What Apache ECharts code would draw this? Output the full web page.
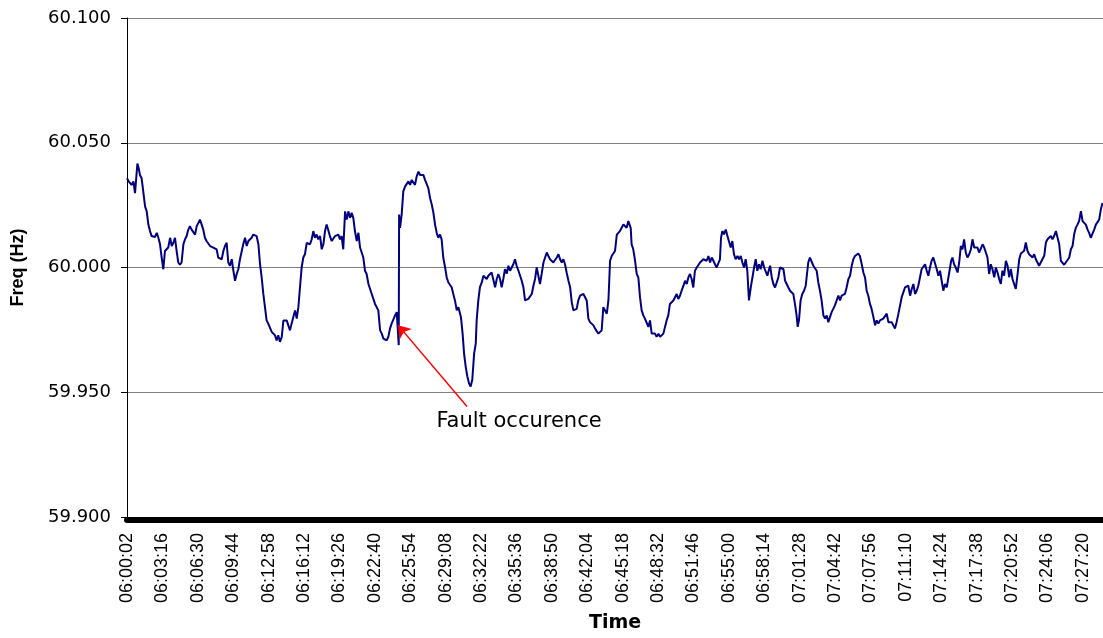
<!DOCTYPE html>
<html>
<head>
<meta charset="utf-8">
<script src="https://cdn.jsdelivr.net/npm/echarts@6/dist/echarts.min.js"></script>
<style>
html,body{margin:0;padding:0;background:#fff;}
#chart{width:1103px;height:638px;}
</style>
</head>
<body>
<div id="chart"></div>
<script>
// Tick labels on the time axis (one every 194 s, starting 06:00:02)
const timeLabels = ['06:00:02','06:03:16','06:06:30','06:09:44','06:12:58','06:16:12','06:19:26',
  '06:22:40','06:25:54','06:29:08','06:32:22','06:35:36','06:38:50','06:42:04','06:45:18',
  '06:48:32','06:51:46','06:55:00','06:58:14','07:01:28','07:04:42','07:07:56','07:11:10',
  '07:14:24','07:17:38','07:20:52','07:24:06','07:27:20'];
const labelStepSeconds = 194;
const axisEndSeconds = 5348;

// Frequency readings: [seconds after 06:00:02, frequency in Hz]
const readings = [
[0,60.0358],[9,60.0345],[16,60.0351],[25,60.0331],[35,60.0345],[44,60.0298],[57,60.0417],[64,60.0398],[71,60.0371],[80,60.0358],
[89,60.0305],[99,60.0245],[108,60.0225],[117,60.0172],[126,60.0146],[135,60.0126],[144,60.0130],[153,60.0122],[163,60.0139],[172,60.0119],
[181,60.0093],[190,60.0040],[199,59.9993],[208,60.0066],[217,60.0060],[226,60.0080],[236,60.0119],[245,60.0086],[254,60.0099],[263,60.0119],
[272,60.0066],[281,60.0020],[290,60.0011],[299,60.0020],[309,60.0093],[318,60.0113],[327,60.0126],[336,60.0152],[345,60.0166],[354,60.0152],
[363,60.0159],[373,60.0132],[382,60.0166],[391,60.0172],[400,60.0192],[409,60.0172],[418,60.0152],[427,60.0119],[436,60.0106],[446,60.0113],
[455,60.0086],[464,60.0093],[473,60.0080],[482,60.0086],[491,60.0073],[500,60.0040],[510,60.0046],[519,60.0033],[528,60.0066],[537,60.0086],
[546,60.0099],[555,60.0020],[564,60.0007],[574,60.0033],[583,59.9987],[592,59.9947],[601,59.9974],[610,59.9993],[619,60.0033],[628,60.0040],
[637,60.0093],[647,60.0119],[656,60.0086],[665,60.0106],[674,60.0113],[683,60.0119],[692,60.0132],[701,60.0139],[710,60.0126],[720,60.0093],
[729,60.0013],[738,59.9960],[747,59.9894],[756,59.9841],[765,59.9788],[774,59.9775],[784,59.9768],[793,59.9742],[802,59.9748],[811,59.9728],
[820,59.9708],[829,59.9728],[838,59.9702],[848,59.9722],[857,59.9788],[866,59.9781],[875,59.9788],[884,59.9781],[893,59.9748],
[902,59.9775],[911,59.9801],[921,59.9828],[930,59.9795],[939,59.9841],[948,59.9921],[957,60.0000],[966,60.0040],[975,60.0053],[985,60.0099],
[994,60.0106],[1003,60.0093],[1012,60.0113],[1021,60.0146],[1030,60.0119],[1039,60.0132],[1048,60.0113],[1058,60.0126],[1067,60.0073],[1076,60.0093],
[1085,60.0146],[1094,60.0172],[1103,60.0166],[1112,60.0126],[1122,60.0106],[1131,60.0113],[1140,60.0126],[1149,60.0119],[1158,60.0132],[1167,60.0113],
[1176,60.0126],[1185,60.0073],[1195,60.0225],[1204,60.0192],[1213,60.0225],[1222,60.0199],[1231,60.0219],[1240,60.0199],[1249,60.0146],[1259,60.0106],
[1268,60.0139],[1277,60.0080],[1286,60.0086],[1295,60.0040],[1304,59.9987],[1313,59.9974],[1323,59.9934],[1332,59.9927],[1341,59.9894],[1350,59.9887],
[1359,59.9854],[1368,59.9848],[1377,59.9828],[1387,59.9748],[1396,59.9735],[1405,59.9715],[1414,59.9722],[1423,59.9708],[1432,59.9722],[1441,59.9755],
[1450,59.9775],[1460,59.9781],[1469,59.9808],[1478,59.9821],[1487,59.9815],[1489,59.9689],[1491,60.0212],[1496,60.0159],[1505,60.0212],[1514,60.0305],
[1524,60.0325],[1533,60.0331],[1542,60.0345],[1551,60.0331],[1560,60.0351],[1569,60.0358],[1578,60.0331],[1587,60.0364],[1597,60.0384],[1606,60.0371],
[1615,60.0364],[1624,60.0371],[1633,60.0351],[1642,60.0345],[1651,60.0318],[1661,60.0278],[1670,60.0252],[1679,60.0219],[1688,60.0172],[1697,60.0139],
[1706,60.0119],[1715,60.0132],[1724,60.0113],[1733,60.0040],[1743,60.0000],[1752,59.9960],[1761,59.9940],[1770,59.9947],[1779,59.9921],
[1788,59.9894],[1797,59.9868],[1807,59.9828],[1816,59.9841],[1825,59.9848],[1830,59.9801],[1839,59.9735],[1847,59.9655],[1856,59.9602],[1865,59.9563],
[1874,59.9536],[1883,59.9523],[1892,59.9550],[1902,59.9655],[1911,59.9695],[1916,59.9788],[1925,59.9868],[1934,59.9921],[1944,59.9940],[1953,59.9967],
[1962,59.9974],[1971,59.9954],[1980,59.9967],[1989,59.9974],[1998,59.9980],[2008,59.9974],[2017,59.9921],[2026,59.9954],[2035,59.9974],[2044,59.9954],
[2053,59.9921],[2062,59.9954],[2071,59.9993],[2081,59.9976],[2090,60.0007],[2099,59.9987],[2108,59.9993],[2117,60.0013],[2126,60.0033],[2135,60.0007],
[2145,59.9987],[2154,59.9967],[2163,59.9947],[2172,59.9921],[2181,59.9868],[2190,59.9861],[2199,59.9874],[2208,59.9868],[2218,59.9894],[2227,59.9927],
[2236,59.9954],[2245,60.0000],[2254,59.9993],[2263,59.9934],[2272,59.9974],[2282,60.0020],[2291,60.0040],[2300,60.0060],[2309,60.0046],[2318,60.0033],
[2327,60.0027],[2336,60.0020],[2345,60.0020],[2355,60.0040],[2364,60.0053],[2373,60.0033],[2382,60.0020],[2391,60.0033],[2400,60.0013],[2409,59.9980],
[2419,59.9947],[2428,59.9921],[2437,59.9861],[2446,59.9828],[2455,59.9821],[2464,59.9834],[2473,59.9868],[2483,59.9887],[2492,59.9887],[2501,59.9894],
[2510,59.9881],[2519,59.9868],[2528,59.9795],[2537,59.9781],[2546,59.9775],[2556,59.9768],[2565,59.9755],[2574,59.9748],[2583,59.9735],[2592,59.9728],
[2601,59.9748],[2610,59.9841],[2620,59.9848],[2629,59.9815],[2638,59.9868],[2647,60.0027],[2656,60.0046],[2665,60.0053],[2674,60.0066],[2684,60.0132],
[2692,60.0133],[2701,60.0146],[2711,60.0152],[2720,60.0172],[2729,60.0166],[2738,60.0159],[2747,60.0186],[2753,60.0192],[2760,60.0159],[2765,60.0093],
[2774,60.0073],[2784,60.0027],[2793,59.9974],[2802,59.9960],[2811,59.9881],[2820,59.9828],[2829,59.9808],[2838,59.9795],[2848,59.9788],[2857,59.9762],
[2866,59.9788],[2875,59.9735],[2884,59.9728],[2893,59.9735],[2902,59.9722],[2912,59.9735],[2921,59.9722],[2930,59.9728],[2939,59.9735],[2948,59.9762],
[2957,59.9788],[2966,59.9808],[2975,59.9854],[2985,59.9861],[2994,59.9868],[3003,59.9881],[3012,59.9894],[3021,59.9874],[3030,59.9887],[3039,59.9907],
[3049,59.9927],[3058,59.9947],[3067,59.9934],[3076,59.9960],[3085,59.9974],[3094,59.9954],[3103,59.9920],[3112,59.9987],[3122,60.0000],[3131,60.0007],
[3140,60.0020],[3149,60.0013],[3158,60.0033],[3167,60.0040],[3176,60.0027],[3186,60.0046],[3195,60.0020],[3204,60.0040],[3213,60.0027],[3222,60.0013],
[3231,60.0000],[3240,59.9993],[3249,60.0033],[3255,60.0119],[3262,60.0146],[3271,60.0133],[3281,60.0152],[3290,60.0126],[3299,60.0119],[3308,60.0080],
[3317,60.0106],[3326,60.0053],[3335,60.0033],[3345,60.0046],[3354,60.0033],[3363,60.0046],[3372,60.0020],[3381,60.0000],[3390,60.0033],[3399,59.9987],
[3408,59.9868],[3418,59.9920],[3427,59.9960],[3436,60.0000],[3445,60.0033],[3454,59.9987],[3463,60.0013],[3472,59.9993],[3482,60.0027],[3491,60.0000],
[3500,59.9993],[3509,59.9967],[3518,59.9993],[3524,60.0007],[3533,59.9960],[3542,59.9934],[3551,59.9920],[3560,59.9914],[3569,59.9960],[3578,60.0000],
[3587,60.0000],[3597,59.9993],[3606,59.9947],
[3615,59.9940],[3624,59.9920],[3633,59.9907],[3642,59.9901],[3651,59.9894],[3660,59.9854],[3669,59.9808],[3675,59.9762],[3682,59.9788],[3691,59.9868],
[3700,59.9894],[3710,59.9907],[3719,59.9927],[3728,59.9987],[3733,60.0020],[3742,60.0040],[3752,60.0046],[3761,60.0007],[3770,60.0000],[3779,59.9987],
[3788,59.9940],[3797,59.9907],[3806,59.9868],[3816,59.9808],[3825,59.9795],[3834,59.9808],[3843,59.9781],[3852,59.9788],[3861,59.9821],[3870,59.9834],
[3879,59.9848],[3889,59.9854],[3898,59.9887],[3907,59.9868],[3916,59.9887],[3925,59.9881],[3934,59.9894],[3943,59.9920],[3953,59.9954],[3962,59.9967],
[3971,60.0007],[3980,60.0033],[3989,60.0046],[3998,60.0046],[4007,60.0056],[4016,60.0046],[4026,60.0013],[4035,59.9980],[4044,59.9960],[4053,59.9907],
[4062,59.9887],[4071,59.9854],[4080,59.9834],[4090,59.9801],[4099,59.9768],[4108,59.9788],[4117,59.9775],[4126,59.9788],[4135,59.9781],[4144,59.9795],
[4153,59.9788],[4163,59.9815],[4172,59.9781],[4181,59.9788],[4190,59.9781],[4199,59.9788],[4208,59.9755],[4217,59.9781],[4227,59.9815],[4236,59.9815],
[4245,59.9881],[4254,59.9881],[4263,59.9920],[4272,59.9927],[4281,59.9927],[4291,59.9887],[4300,59.9914],[4309,59.9934],[4318,59.9894],[4327,59.9907],
[4336,59.9927],[4345,59.9960],[4354,59.9993],[4364,59.9987],[4373,60.0013],[4382,59.9987],[4391,59.9967],[4400,60.0000],[4409,60.0027],[4418,60.0040],
[4428,60.0033],[4437,59.9993],[4446,59.9967],[4455,59.9987],[4464,59.9947],[4473,59.9907],[4482,59.9934],[4492,59.9920],[4501,59.9927],
[4507,59.9987],[4516,60.0027],[4523,60.0040],[4532,60.0013],[4541,60.0000],[4551,59.9980],[4560,60.0020],[4569,60.0086],[4578,60.0073],[4587,60.0113],
[4596,60.0060],[4605,60.0040],[4615,60.0053],[4624,60.0073],[4633,60.0113],[4642,60.0080],[4651,60.0073],[4660,60.0080],[4669,60.0060],[4678,60.0067],
[4688,60.0093],[4697,60.0080],[4706,60.0086],[4715,60.0040],[4724,59.9974],[4733,60.0013],[4742,59.9994],[4752,59.9961],[4761,60.0000],[4770,59.9980],
[4779,59.9954],[4788,59.9934],[4797,59.9987],[4806,59.9967],[4816,60.0027],[4825,60.0007],[4834,59.9961],[4843,59.9994],[4852,59.9954],[4861,59.9961],
[4870,59.9914],[4879,59.9967],[4889,60.0033],[4898,60.0056],[4907,60.0060],[4916,60.0067],[4925,60.0100],[4934,60.0067],[4943,60.0053],[4953,60.0060],
[4962,60.0040],[4971,60.0053],[4980,60.0033],[4989,60.0040],[4998,60.0007],[5007,60.0013],[5016,60.0033],[5026,60.0047],[5035,60.0100],[5044,60.0113],
[5053,60.0106],[5062,60.0126],[5071,60.0113],[5080,60.0126],[5090,60.0146],[5099,60.0139],[5108,60.0093],[5117,60.0027],[5126,60.0020],[5135,60.0011],
[5144,60.0020],[5154,60.0027],[5163,60.0040],[5172,60.0073],[5181,60.0086],[5190,60.0133],[5199,60.0159],[5208,60.0172],[5217,60.0186],[5227,60.0226],
[5236,60.0186],[5245,60.0192],[5254,60.0172],[5263,60.0153],[5272,60.0139],[5281,60.0119],[5291,60.0126],[5300,60.0153],[5309,60.0172],[5318,60.0179],
[5327,60.0192],[5336,60.0232],[5345,60.0259]
];

// Annotation (data coordinates)
const faultText = 'Fault occurence';
const faultArrowFrom = [1863, 59.9443];
const faultArrowTo = [1485, 59.9769];
const faultTextAt = [2148, 59.9384];

const chart = echarts.init(document.getElementById('chart'), null, {renderer: 'canvas'});
chart.setOption({
  animation: false,
  backgroundColor: '#ffffff',
  grid: {left: 127, right: 0, top: 18, bottom: 117, containLabel: false},
  xAxis: {
    type: 'value',
    min: 0,
    max: axisEndSeconds,
    interval: labelStepSeconds,
    offset: 3,
    name: 'Time',
    nameLocation: 'middle',
    nameGap: 94,
    nameTextStyle: {fontFamily: 'DejaVu Sans', fontWeight: 'bold', fontSize: 19, color: '#000'},
    axisLine: {show: true, onZero: false, lineStyle: {color: '#000', width: 6}},
    axisTick: {show: false},
    splitLine: {show: false},
    axisLabel: {
      rotate: 90,
      margin: 13,
      showMaxLabel: false,
      fontFamily: 'Liberation Sans',
      fontSize: 18,
      color: '#000',
      formatter: function (v) {
        const i = Math.round(v / labelStepSeconds);
        return (Math.abs(v - i * labelStepSeconds) < 1e-6 && timeLabels[i]) ? timeLabels[i] : '';
      }
    }
  },
  yAxis: {
    type: 'value',
    min: 59.9,
    max: 60.1,
    interval: 0.05,
    name: 'Freq (Hz)',
    nameLocation: 'middle',
    nameGap: 100,
    nameRotate: 90,
    nameTextStyle: {fontFamily: 'Liberation Sans', fontWeight: 'bold', fontSize: 18, color: '#000'},
    axisLine: {show: true, lineStyle: {color: '#000', width: 1}},
    axisTick: {show: true, length: 6, lineStyle: {color: '#000'}},
    splitLine: {show: true, lineStyle: {color: '#808080', width: 1}},
    axisLabel: {
      margin: 16,
      fontFamily: 'DejaVu Sans',
      fontSize: 18,
      color: '#000',
      formatter: function (v) { return v.toFixed(3); }
    }
  },
  series: [{
    type: 'line',
    data: readings,
    showSymbol: false,
    symbol: 'none',
    smooth: false,
    lineStyle: {color: '#000080', width: 2},
    itemStyle: {color: '#000080'},
    markLine: {
      silent: true,
      symbol: ['none', 'arrow'],
      symbolSize: 12,
      lineStyle: {color: '#ff0000', width: 1.5, type: 'solid'},
      itemStyle: {color: '#ff0000'},
      label: {show: false},
      data: [[{coord: faultArrowFrom}, {coord: faultArrowTo}]]
    },
    markPoint: {
      silent: true,
      symbol: 'circle',
      symbolSize: 1,
      itemStyle: {color: 'rgba(0,0,0,0)'},
      label: {show: true, position: 'inside', formatter: faultText, fontFamily: 'DejaVu Sans', fontSize: 21, color: '#000'},
      data: [{coord: faultTextAt}]
    }
  }]
});
</script>
</body>
</html>
